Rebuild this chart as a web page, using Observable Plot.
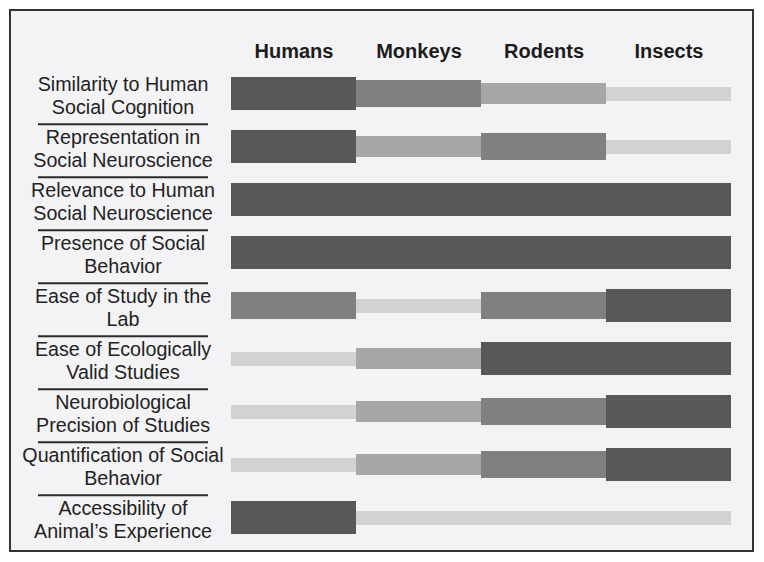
<!DOCTYPE html>
<html>
<head>
<meta charset="utf-8">
<script src="https://cdn.jsdelivr.net/npm/d3@7"></script>
<script src="https://cdn.jsdelivr.net/npm/@observablehq/plot@0.6"></script>
<style>
  html, body { margin: 0; padding: 0; background: #ffffff; }
  #wrap { position: relative; width: 764px; height: 562px; }
  #frame { position: absolute; left: 9px; top: 9px; width: 745px; height: 543px; box-sizing: border-box;
           border: 2px solid #343434; background: #f3f3f5; }
  #chart { position: absolute; left: 0; top: 0; }
</style>
</head>
<body>
<div id="wrap"><div id="frame"></div><div id="chart"></div></div>
<script>
const animals = ["Humans", "Monkeys", "Rodents", "Insects"];
const criteria = [
  "Similarity to Human\nSocial Cognition",
  "Representation in\nSocial Neuroscience",
  "Relevance to Human\nSocial Neuroscience",
  "Presence of Social\nBehavior",
  "Ease of Study in the\nLab",
  "Ease of Ecologically\nValid Studies",
  "Neurobiological\nPrecision of Studies",
  "Quantification of Social\nBehavior",
  "Accessibility of\nAnimal\u2019s Experience"
];
// level 1 (low) .. 4 (high)
const humans  = [4, 4, 4, 4, 3, 1, 1, 1, 4];
const monkeys = [3, 2, 4, 4, 1, 2, 2, 2, 1];
const rodents = [2, 3, 4, 4, 3, 4, 3, 3, 1];
const insects = [1, 1, 4, 4, 4, 4, 4, 4, 1];
const levels = [1, 2, 3, 4];

const series = [humans, monkeys, rodents, insects];
const table = [];
criteria.forEach((c, i) => {
  animals.forEach((a, j) => table.push({criterion: c, animal: a, level: series[j][i]}));
});

const levelColor = {1: "#d2d2d4", 2: "#a7a7aa", 3: "#808083", 4: "#58585a"};
const levelInset = {1: 19.5, 2: 16, 3: 13, 4: 9.8};

const marks = levels.map(l => Plot.cell(table.filter(d => d.level === l), {
  x: "animal", y: "criterion", fill: levelColor[l],
  insetTop: levelInset[l], insetBottom: levelInset[l], insetLeft: 0, insetRight: 0,
  shapeRendering: "crispEdges"
}));

marks.push(Plot.text(animals, {
  x: d => d, frameAnchor: "top", dy: -21, fontSize: 20, fontWeight: "bold", fill: "#1c1c1c"
}));
marks.push(Plot.text(criteria, {
  y: d => d, frameAnchor: "left", dx: -107.5, textAnchor: "middle",
  fontSize: 19.7, lineHeight: 1.19, dy: 1, fill: "#222222"
}));
marks.push(Plot.ruleY(criteria.slice(0, -1), {
  y: d => d, dy: 30.3, insetLeft: -192, insetRight: 523, stroke: "#2b2b2b", strokeWidth: 2
}));

const chart = Plot.plot({
  width: 764, height: 562,
  marginLeft: 230, marginRight: 33, marginTop: 64.7, marginBottom: 14.9,
  x: {domain: animals, padding: 0, axis: null},
  y: {domain: criteria, padding: 0, axis: null},
  style: {background: "transparent", fontFamily: "'Liberation Sans', Arial, sans-serif"},
  marks
});
document.getElementById("chart").appendChild(chart);
</script>
</body>
</html>
